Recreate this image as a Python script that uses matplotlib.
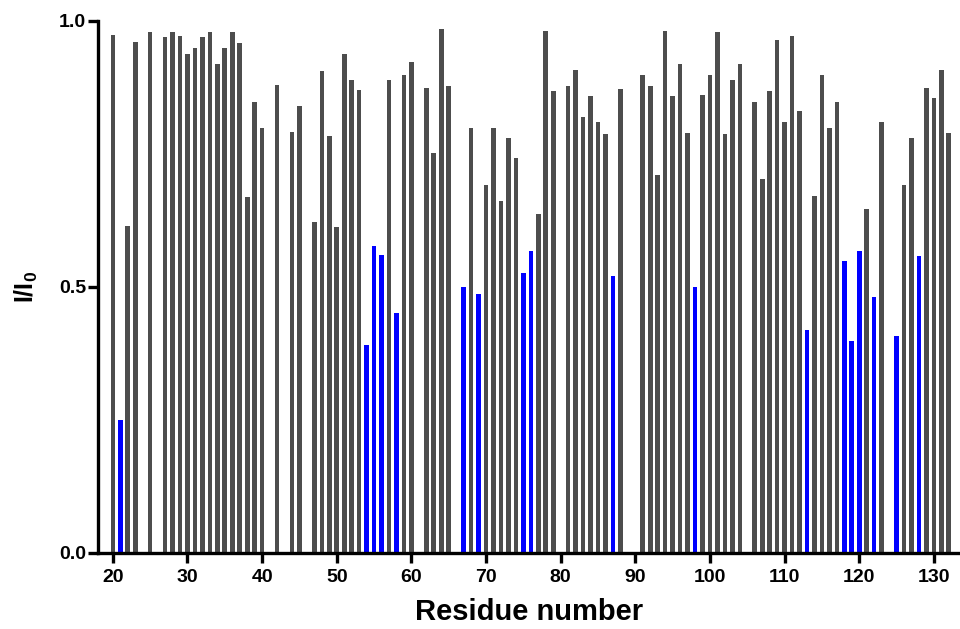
import matplotlib
matplotlib.use('Agg')
import matplotlib.pyplot as plt
import numpy as np

plt.rcParams['font.family'] = ['Liberation Sans', 'DejaVu Sans']
plt.rcParams['mathtext.fontset'] = 'custom'
plt.rcParams['mathtext.rm'] = 'Liberation Sans:bold'
plt.rcParams['mathtext.bf'] = 'Liberation Sans:bold'

# residue number -> I/I0 (missing residues have no bar)
residues = [20, 21, 22, 23, 25, 27, 28, 29, 30, 31, 32, 33, 34, 35, 36, 37, 38, 39, 40,
            42, 44, 45, 47, 48, 49, 50, 51, 52, 53, 54, 55, 56, 57, 58, 59, 60,
            62, 63, 64, 65, 67, 68, 69, 70, 71, 72, 73, 74, 75, 76, 77, 78, 79,
            81, 82, 83, 84, 85, 86, 87, 88, 91, 92, 93, 94, 95, 96, 97, 98, 99, 100,
            101, 102, 103, 104, 106, 107, 108, 109, 110, 111, 112, 113, 114, 115, 116,
            117, 118, 119, 120, 121, 122, 123, 125, 126, 127, 128, 129, 130, 131, 132]
intensity = [0.973, 0.249, 0.615, 0.960, 0.978, 0.969, 0.978, 0.971, 0.938, 0.949,
             0.969, 0.978, 0.918, 0.949, 0.978, 0.958, 0.668, 0.848, 0.799,
             0.879, 0.791, 0.839, 0.622, 0.905, 0.783, 0.612, 0.938, 0.888, 0.870,
             0.390, 0.577, 0.559, 0.888, 0.450, 0.898, 0.922,
             0.874, 0.751, 0.985, 0.878, 0.500, 0.798, 0.486, 0.692, 0.798, 0.661,
             0.779, 0.742, 0.526, 0.567, 0.637, 0.980, 0.868,
             0.878, 0.908, 0.819, 0.858, 0.809, 0.787, 0.520, 0.872, 0.898, 0.878,
             0.711, 0.981, 0.858, 0.918, 0.789, 0.500, 0.860, 0.898,
             0.978, 0.787, 0.888, 0.918, 0.848, 0.702, 0.868, 0.963, 0.809, 0.971,
             0.831, 0.419, 0.671, 0.898, 0.799, 0.848, 0.548, 0.399, 0.568, 0.647,
             0.480, 0.809, 0.407, 0.691, 0.779, 0.557, 0.874, 0.855, 0.908, 0.789]
highlighted = [21, 54, 55, 56, 58, 67, 69, 75, 76, 87, 98, 113, 118, 119, 120, 122, 125, 128]

colors = ['#0000ff' if r in highlighted else '#4d4d4d' for r in residues]

fig = plt.figure(figsize=(9.6, 6.29), dpi=100)
ax = fig.add_axes([0.102, 0.121, 0.898, 0.846])
ax.bar(residues, intensity, width=0.62, color=colors, edgecolor='none')

ax.set_xlim(18, 133.5)
ax.set_ylim(0, 1.0)
ax.set_xticks(np.arange(20, 131, 10))
ax.set_yticks([0.0, 0.5, 1.0])
ax.set_yticklabels(['0.0', '0.5', '1.0'])

for s in ['top', 'right']:
    ax.spines[s].set_visible(False)
for s in ['left', 'bottom']:
    ax.spines[s].set_linewidth(2.4)
ax.tick_params(width=2.4, length=7, labelsize=14)
ax.tick_params(axis='x', pad=4.5)
ax.tick_params(axis='y', pad=1.5)
for lab in ax.get_xticklabels() + ax.get_yticklabels():
    lab.set_fontweight('bold')

ax.set_xlabel('Residue number', fontsize=21, fontweight='bold', labelpad=9)
ax.set_ylabel(r'I/I$_\mathbf{0}$', fontsize=18, fontweight='bold', labelpad=14)

fig.savefig('out.png', dpi=100)
